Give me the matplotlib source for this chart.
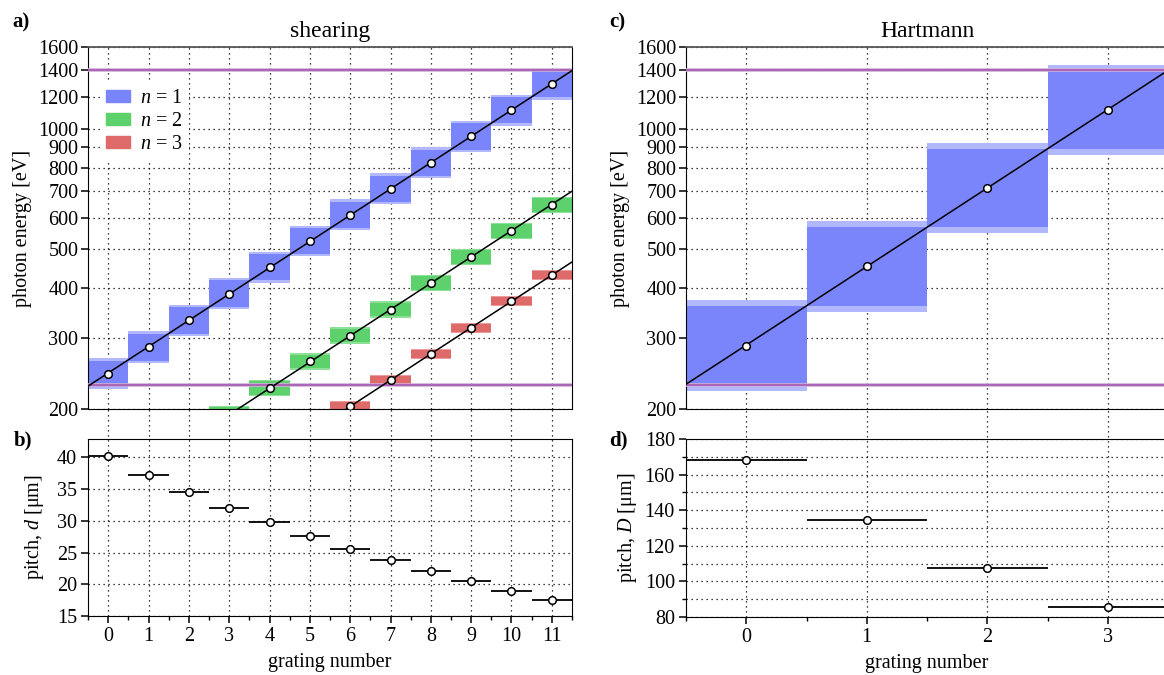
import numpy as np
import matplotlib
matplotlib.use("Agg")
import matplotlib.pyplot as plt
from matplotlib.patches import Patch
from matplotlib.ticker import FixedLocator, NullLocator, FuncFormatter, MultipleLocator

plt.rcParams["font.family"] = ["Liberation Serif", "DejaVu Serif"]
plt.rcParams["mathtext.fontset"] = "custom"
plt.rcParams["mathtext.rm"] = "Liberation Serif"
plt.rcParams["mathtext.it"] = "Liberation Serif:italic"
plt.rcParams["font.size"] = 14.5

# shearing gratings
SHEAR_GRATING = list(range(12))
SHEAR_E1 = [245, 285, 333, 388, 452, 525, 610, 708, 823, 958, 1112, 1292]
SHEAR_E2 = [122, 143, 167, 194, 226, 263, 305, 354, 412, 479, 556, 646]
SHEAR_E3 = [82, 95, 111, 129, 151, 175, 203, 236, 274, 319, 371, 431]
SHEAR_PITCH = [40.2, 37.3, 34.6, 32.1, 29.8, 27.6, 25.6, 23.8, 22.1, 20.5, 18.9, 17.6]

# Hartmann gratings
HART_GRATING = [0, 1, 2, 3]
HART_E = [288, 455, 712, 1115]
HART_PITCH = [168.3, 134.3, 107.3, 85.5]

# energy range of the beamline
RANGE_LIMITS = [230, 1400]
ENERGY_TICKS = [200, 300, 400, 500, 600, 700, 800, 900, 1000, 1200, 1400, 1600]

# relative half widths of the higher order bands
HALF_N2 = 1.04
HALF_N3 = 1.023

BLUE = ("#7b85fb", "#b2b8fd")
GREEN = ("#5dd16b", "#8ee098")
RED = ("#df6a6a", "#eb9c9c")
PURPLE = ("#a560b3", "#d4aedc")

GRID = dict(color="black", linestyle=(0, (1, 3)), linewidth=0.9)
W, H = 1164, 675


def pos(l, t, r, b):
    return [l / W, 1 - b / H, (r - l) / W, (b - t) / H]


def tile_bounds(e):
    le = np.log10(e)
    mid = (le[:-1] + le[1:]) / 2
    lo = np.concatenate([[le[0] - (le[1] - le[0]) / 2], mid])
    hi = np.concatenate([mid, [le[-1] + (le[-1] - le[-2]) / 2]])
    return 10 ** lo, 10 ** hi


def boxes(ax, x, lo, hi, outer, colors):
    lo = np.asarray(lo)
    hi = np.asarray(hi)
    ax.bar(x, hi * outer - lo / outer, bottom=lo / outer, width=1.0,
           color=colors[1], linewidth=0, zorder=1)
    ax.bar(x, hi - lo, bottom=lo, width=1.0, color=colors[0], linewidth=0, zorder=1.1)


def trend(ax, x, e):
    coef = np.polyfit(x, np.log10(e), 1)
    xs = np.array([x[0] - 0.5, x[-1] + 0.5])
    ax.plot(xs, 10 ** np.polyval(coef, xs), color="black", lw=1.1, zorder=4)
    ax.plot(x, e, "o", mfc="white", mec="black", ms=5.5, mew=1.1, zorder=5)


def energy_axes(ax, xmax):
    ax.set_yscale("log")
    ax.set_ylim(200, 1600)
    ax.set_xlim(-0.5, xmax + 0.5)
    ax.yaxis.set_major_locator(FixedLocator(ENERGY_TICKS))
    ax.yaxis.set_minor_locator(NullLocator())
    ax.yaxis.set_major_formatter(FuncFormatter(lambda v, p: "%d" % v))
    ax.xaxis.set_major_locator(MultipleLocator(1))
    ax.tick_params(axis="x", length=0, labelbottom=False)
    ax.tick_params(axis="y", direction="out", length=5, width=1.1, pad=2)
    ax.set_axisbelow(True)
    ax.grid(True, **GRID)
    for v in RANGE_LIMITS:
        ax.axhline(v, color=PURPLE[1], lw=2.6, zorder=3)
        ax.axhline(v, color=PURPLE[0], lw=1.3, zorder=3.1)
    ax.spines["top"].set_color("#555555")
    ax.spines["top"].set_linewidth(1.3)
    ax.set_ylabel("photon energy [eV]", labelpad=4)


def pitch_axes(ax, x, d, xmax):
    ax.errorbar(x, d, xerr=0.5, fmt="o", color="black", mfc="white", mec="black",
                ms=5.5, mew=1.1, elinewidth=1.3, capsize=0, zorder=5)
    ax.set_xlim(-0.5, xmax + 0.5)
    ax.xaxis.set_major_locator(MultipleLocator(1))
    ax.xaxis.set_minor_locator(MultipleLocator(0.5))
    ax.tick_params(axis="both", which="major", direction="out", length=5, width=1.1, pad=3)
    ax.tick_params(axis="both", which="minor", direction="out", length=3, width=1.0)
    ax.yaxis.grid(True, which="both", **GRID)
    ax.set_axisbelow(True)
    # vertical grid runs up through the gap to the energy panel
    ext = 1 + 30 / 177
    for g in x:
        ax.axvline(g, ymin=0, ymax=ext, clip_on=False, zorder=0.5, **GRID)
    ax.set_xlabel("grating number", labelpad=5)


fig = plt.figure(figsize=(W / 100, H / 100), dpi=100)

# a) shearing energies
ax_a = fig.add_axes(pos(88, 47, 572, 409))
energy_axes(ax_a, 11)
lo1, hi1 = tile_bounds(SHEAR_E1)
boxes(ax_a, SHEAR_GRATING, lo1, hi1, 1.014, BLUE)
e2 = np.asarray(SHEAR_E2, float)
e3 = np.asarray(SHEAR_E3, float)
boxes(ax_a, SHEAR_GRATING, e2 / HALF_N2, e2 * HALF_N2, 1.008, GREEN)
boxes(ax_a, SHEAR_GRATING, e3 / HALF_N3, e3 * HALF_N3, 1.006, RED)
trend(ax_a, SHEAR_GRATING, SHEAR_E1)
trend(ax_a, SHEAR_GRATING, SHEAR_E2)
trend(ax_a, SHEAR_GRATING, SHEAR_E3)
ax_a.set_title("shearing", fontsize=17, pad=7)
handles = [Patch(color=BLUE[0]), Patch(color=GREEN[0]), Patch(color=RED[0])]
leg = ax_a.legend(handles, ["$n$ = 1", "$n$ = 2", "$n$ = 3"], loc="upper left",
                  bbox_to_anchor=(0.025, 0.9), borderaxespad=0, frameon=True,
                  facecolor="white", edgecolor="none", framealpha=1, fancybox=False,
                  handlelength=1.2, handleheight=0.55, handletextpad=0.5,
                  labelspacing=0.2, borderpad=0.3)
leg.set_zorder(6)

# b) shearing pitch
ax_b = fig.add_axes(pos(88, 439, 572, 616))
pitch_axes(ax_b, SHEAR_GRATING, SHEAR_PITCH, 11)
ax_b.set_ylim(15, 42.9)
ax_b.yaxis.set_major_locator(MultipleLocator(5))
ax_b.yaxis.set_minor_locator(NullLocator())
ax_b.set_ylabel("pitch, $d$ [μm]", labelpad=8)

# c) Hartmann energies
ax_c = fig.add_axes(pos(686, 47, 1168, 409))
energy_axes(ax_c, 3)
loh, hih = tile_bounds(HART_E)
boxes(ax_c, HART_GRATING, loh, hih, 1.035, BLUE)
trend(ax_c, HART_GRATING, HART_E)
ax_c.set_title("Hartmann", fontsize=17, pad=7)

# d) Hartmann pitch
ax_d = fig.add_axes(pos(686, 439, 1168, 617))
pitch_axes(ax_d, HART_GRATING, HART_PITCH, 3)
ax_d.set_ylim(80, 180)
ax_d.yaxis.set_major_locator(MultipleLocator(20))
ax_d.yaxis.set_minor_locator(MultipleLocator(10))
ax_d.set_ylabel("pitch, $D$ [μm]", labelpad=4)

for lab, x, y in [("a)", 12, 22), ("b)", 14, 440), ("c)", 609, 22), ("d)", 609, 440)]:
    fig.text(x / W, 1 - y / H, lab, fontsize=15, fontweight="bold", va="center", ha="left")

fig.savefig("out.png", dpi=100)
